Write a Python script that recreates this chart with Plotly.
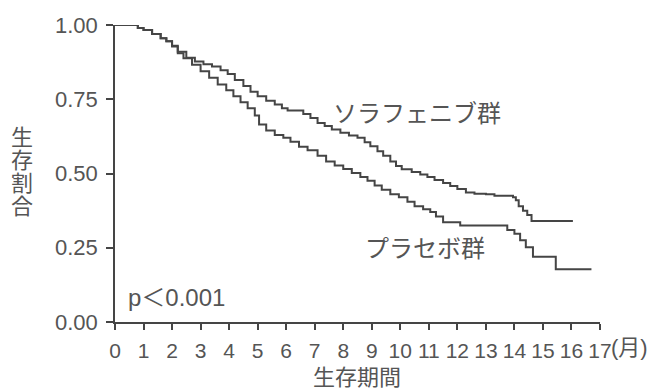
import plotly.graph_objects as go

# Sorafenib group (time in months, survival proportion)
sora_t = [0, 0.6, 0.8, 1.0, 1.3, 1.6, 1.8, 2.0, 2.2, 2.5, 2.8, 3.1, 3.4, 3.7, 3.95,
          4.2, 4.5, 4.75, 5.0, 5.3, 5.6, 5.85, 6.05, 6.4, 6.6, 6.85, 7.1, 7.35, 7.6,
          7.9, 8.2, 8.5, 8.75, 8.95, 9.2, 9.4, 9.65, 9.85, 10.05, 10.4, 10.7, 10.95,
          11.2, 11.5, 11.75, 12.0, 12.3, 12.6, 13.0, 13.3, 13.95, 14.05, 14.15, 14.3,
          14.45, 14.6, 16.05]
sora_s = [1.0, 1.0, 0.99, 0.983, 0.97, 0.955, 0.945, 0.93, 0.91, 0.89, 0.877, 0.868,
          0.86, 0.848, 0.835, 0.815, 0.795, 0.775, 0.76, 0.745, 0.732, 0.72, 0.712,
          0.712, 0.70, 0.687, 0.67, 0.66, 0.648, 0.637, 0.628, 0.62, 0.605, 0.592,
          0.575, 0.56, 0.54, 0.525, 0.514, 0.505, 0.497, 0.488, 0.478, 0.468, 0.458,
          0.448, 0.436, 0.432, 0.43, 0.425, 0.42, 0.41, 0.39, 0.375, 0.36, 0.34, 0.34]

# Placebo group
plac_t = [0, 0.6, 0.8, 1.0, 1.3, 1.6, 1.8, 2.0, 2.2, 2.4, 2.7, 3.0, 3.3, 3.6, 3.9,
          4.15, 4.4, 4.65, 4.9, 5.05, 5.3, 5.6, 5.9, 6.15, 6.45, 6.75, 7.1, 7.4, 7.7,
          8.0, 8.3, 8.6, 8.85, 9.1, 9.35, 9.65, 9.95, 10.25, 10.5, 10.8, 11.05, 11.25,
          11.5, 12.1, 13.75, 14.0, 14.2, 14.4, 14.65, 15.45, 16.7]
plac_s = [1.0, 1.0, 0.99, 0.983, 0.97, 0.955, 0.945, 0.928, 0.905, 0.888, 0.866,
          0.844, 0.822, 0.80, 0.78, 0.76, 0.74, 0.72, 0.695, 0.665, 0.645, 0.63, 0.62,
          0.607, 0.59, 0.578, 0.56, 0.54, 0.527, 0.515, 0.502, 0.488, 0.476, 0.46,
          0.445, 0.43, 0.42, 0.405, 0.39, 0.38, 0.37, 0.355, 0.336, 0.325, 0.31, 0.297,
          0.275, 0.252, 0.22, 0.178, 0.178]

x_ticks = list(range(0, 18))
y_ticks = [0, 0.25, 0.5, 0.75, 1.0]
y_tick_text = ["0.00", "0.25", "0.50", "0.75", "1.00"]
y_title_chars = ["生", "存", "割", "合"]

LINE = "#454545"
TXT = "#555555"
FONT = "Liberation Sans, Noto Sans CJK JP, sans-serif"

W, H = 656, 391
L, R, T, B = 114.5, 56, 24.5, 69
PW, PH = W - L - R, H - T - B


def px(x):
    return (x - L) / PW


def py(y):
    return (H - B - y) / PH


fig = go.Figure()
fig.add_trace(go.Scatter(x=sora_t, y=sora_s, mode="lines", line=dict(shape="hv", color=LINE, width=2),
                         name="ソラフェニブ群", cliponaxis=False))
fig.add_trace(go.Scatter(x=plac_t, y=plac_s, mode="lines", line=dict(shape="hv", color=LINE, width=2),
                         name="プラセボ群", cliponaxis=False))

fig.update_layout(
    width=W, height=H,
    margin=dict(l=L, r=R, t=T, b=B, autoexpand=False),
    paper_bgcolor="white", plot_bgcolor="white",
    showlegend=False,
    font=dict(family=FONT, color=TXT, size=19),
    xaxis=dict(range=[0, 17], tickvals=x_ticks, ticks="outside", ticklen=6, tickwidth=1.5,
               tickcolor=LINE, showline=True, linecolor=LINE, linewidth=1.5, showgrid=False,
               zeroline=False, ticklabelstandoff=3, automargin=False,
               tickfont=dict(size=21, color=TXT, family=FONT)),
    yaxis=dict(range=[0, 1], tickvals=y_ticks, ticktext=y_tick_text, ticks="outside", ticklen=7,
               tickwidth=1.5, tickcolor=LINE, showline=True, linecolor=LINE, linewidth=1.5,
               showgrid=False, zeroline=False, ticklabelstandoff=4, automargin=False,
               tickfont=dict(size=22, color=TXT, family=FONT)),
)


def note(x, y, text, size=24, xanchor="center"):
    fig.add_annotation(x=px(x), y=py(y), text=text, xanchor=xanchor, yanchor="middle",
                       xref="paper", yref="paper", showarrow=False,
                       font=dict(size=size, family=FONT, color=TXT))


note(417, 113, "ソラフェニブ群")
note(425, 248, "プラセボ群")
note(126, 297, "p＜0.001", xanchor="left")
note(609, 348, "(月)", size=22, xanchor="left")
note(357, 378, "生存期間", size=22)
for i, ch in enumerate(y_title_chars):
    note(21, 137 + 23 * i, ch, size=22)

fig.write_html("out.html", config={"displayModeBar": False},
               post_script="document.body.style.margin='0px';")
